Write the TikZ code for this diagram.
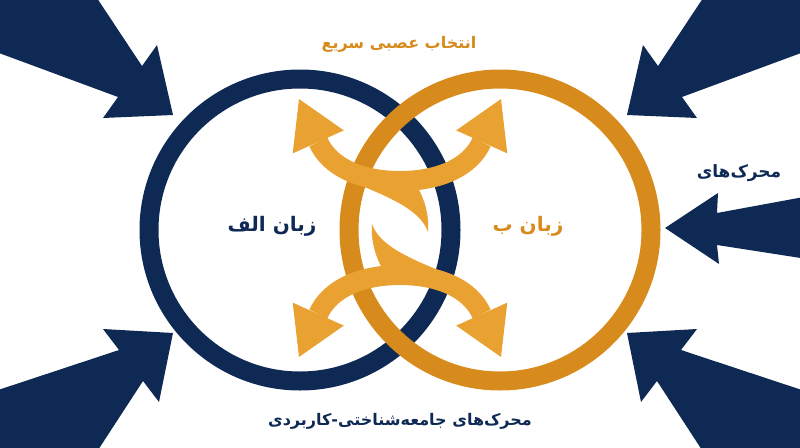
\documentclass[tikz,border=0pt]{standalone}
\usepackage{fontspec}
\usepackage{tikz}
\usetikzlibrary{arrows.meta}
\newfontfamily\arabicfont[Script=Arabic]{DejaVu Sans}
\TeXXeTstate=1
\definecolor{navy}{RGB}{14,42,84}
\definecolor{ringgold}{RGB}{214,139,28}
\definecolor{arrowgold}{RGB}{233,162,50}

\begin{document}
\begin{tikzpicture}[x=1pt,y=-1pt,
	push/.style={fill=navy},
	band/.style={draw=arrowgold,line width=20pt,
		{Triangle[length=47pt,width=56pt,line width=0pt]}-{Triangle[length=47pt,width=56pt,line width=0pt]}},
	word/.style={font=\arabicfont\bfseries\fontsize{#1}{#1}\selectfont,inner sep=0pt}]
	\useasboundingbox (0,0) rectangle (800,447);
	\clip (0,0) rectangle (800,447);

	% navy arrows from outside
	\fill[push] (85,-20) -- (142,66) -- (157,45) -- (173,115) -- (103,118) -- (118,97) -- (-20,46) -- (-20,-20) -- cycle;
	\fill[push] (715,-20) -- (658,66) -- (643,45) -- (627,115) -- (697,118) -- (682,97) -- (820,46) -- (820,-20) -- cycle;
	\fill[push] (-20,396) -- (119,350) -- (103,329) -- (173,333) -- (159,402) -- (143,381) -- (87,467) -- (-20,467) -- cycle;
	\fill[push] (820,396) -- (681,350) -- (697,329) -- (627,333) -- (641,402) -- (657,381) -- (713,467) -- (820,467) -- cycle;
	\fill[push] (820,194) -- (717,213) -- (718,193) -- (665,228) -- (719,264) -- (717,245) -- (820,261) -- cycle;

	\begin{scope}[every node/.style={circle,line width=19pt,minimum size=302pt,inner sep=0pt}]
	\node[draw=navy] (LA) at (300,230) {};
	\node[draw=ringgold] (LB) at (500,230) {};
	\end{scope}

	% crossing arrows
	\draw[band] (299,99) .. controls (330,168) and (362,181) .. (400,181) .. controls (438,181) and (470,168) .. (501,99);
	\fill[arrowgold] (362,186) .. controls (396,200) and (421,212) .. (428,232) .. controls (429,214) and (425,201) .. (418,188) -- cycle;
	\draw[band] (501,357) .. controls (470,288) and (438,275) .. (400,275) .. controls (362,275) and (330,288) .. (299,357);
	\fill[arrowgold] (438,270) .. controls (404,256) and (379,244) .. (372,224) .. controls (371,242) and (375,255) .. (382,268) -- cycle;

	\node[word=20,text=navy] (la) at (272,226) {\beginR زبان الف\endR};
	\node[word=20,text=ringgold] (lb) at (528,226) {\beginR زبان ب\endR};
	\node[word=16,text=ringgold] (top) at (399,44) {\beginR انتخاب عصبی سریع\endR};
	\node[word=17,text=navy] (side) at (739,173) {\beginR محرک‌های\endR};
	\node[word=16,text=navy] (bottom) at (400,421) {\beginR محرک‌های جامعه‌شناختی-کاربردی\endR};
\end{tikzpicture}
\end{document}
